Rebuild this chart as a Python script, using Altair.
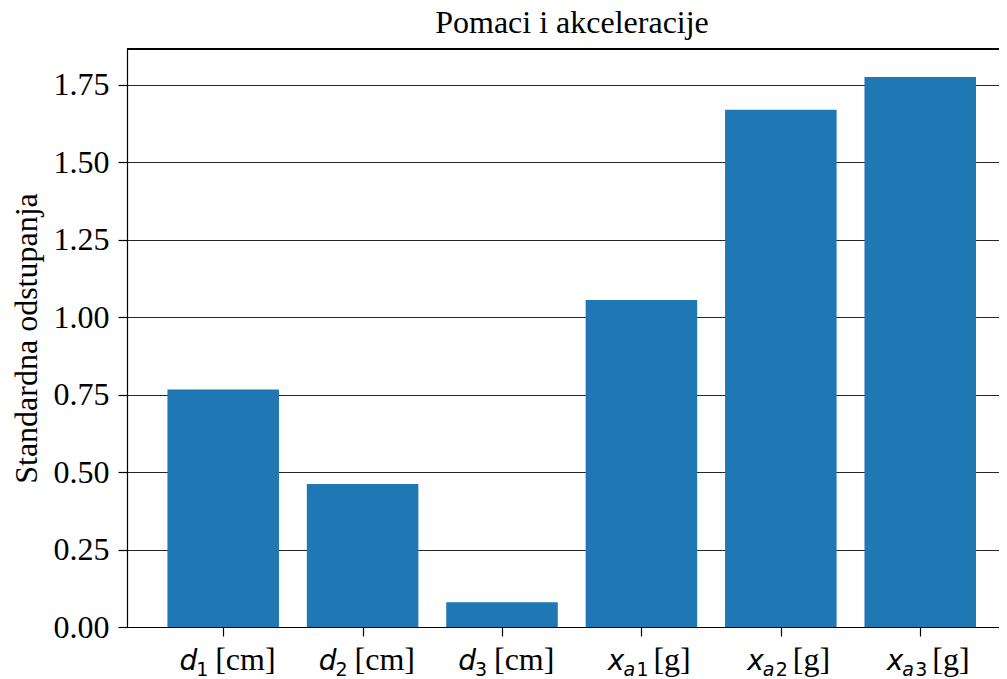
import altair as alt
import pandas as pd

symbols = ["d", "d", "d", "x", "x", "x"]
sub_letters = ["", "", "", "a", "a", "a"]
sub_digits = ["1", "2", "3", "1", "2", "3"]
unit_labels = ["[cm]", "[cm]", "[cm]", "[g]", "[g]", "[g]"]
values = [0.767, 0.462, 0.080, 1.056, 1.670, 1.776]
y_ticks = [0.0, 0.25, 0.5, 0.75, 1.0, 1.25, 1.5, 1.75]

df = pd.DataFrame({
    "idx": list(range(len(values))),
    "sym": symbols,
    "subl": sub_letters,
    "subd": sub_digits,
    "unit": unit_labels,
    "value": values,
})

W, H = 872, 578
SERIF = "Liberation Serif"
SANS = "DejaVu Sans"
FS = 32

xscale = alt.Scale(domain=[-0.69, 5.565], nice=False, zero=False)
yscale = alt.Scale(domain=[0, 1.866], nice=False, zero=True)

base = alt.Chart(df)

bars = base.mark_bar(color="#1f77b4").transform_calculate(
    x0="datum.idx - 0.4", x1="datum.idx + 0.4"
).encode(
    x=alt.X("x0:Q", scale=xscale,
            axis=alt.Axis(values=list(range(len(values))), labels=False, title=None,
                          grid=False, tickSize=9, tickColor="black", tickWidth=1.2,
                          domainColor="black", domainWidth=1.2, zindex=1)),
    x2="x1:Q",
    y=alt.Y("value:Q", scale=yscale,
            axis=alt.Axis(values=y_ticks, format=".2f", title="Standardna odstupanja",
                          labelFont=SERIF, labelFontSize=FS, labelColor="black",
                          labelPadding=9, tickSize=9, tickColor="black", tickWidth=1.2,
                          domainColor="black", domainWidth=1.2,
                          grid=True, gridColor="black", gridWidth=1.1, gridOpacity=0.85,
                          titleFont=SERIF, titleFontSize=FS, titleFontWeight="normal",
                          titleColor="black", titlePadding=10)),
    y2=alt.datum(0),
)

top_spine = base.mark_rule(color="black", strokeWidth=1.2).encode(
    x=alt.value(0), x2=alt.value(W), y=alt.value(0)
)

MAIN_Y = H + 43
SUB_Y = H + 49


def txt(sub, field, font, size, align, dx, y, italic=False):
    kw = dict(font=font, fontSize=size, align=align, baseline="alphabetic", dx=dx, color="black")
    if italic:
        kw["fontStyle"] = "italic"
    return sub.mark_text(**kw).encode(
        x=alt.X("idx:Q", scale=xscale), y=alt.value(y), text=f"{field}:N")


d_rows = base.transform_filter(alt.datum.unit == "[cm]")
x_rows = base.transform_filter(alt.datum.unit == "[g]")

labels = alt.layer(
    txt(d_rows, "sym", SANS, 28, "right", -26, MAIN_Y, italic=True),
    txt(d_rows, "subd", SANS, 19, "left", -27, SUB_Y),
    txt(d_rows, "unit", SERIF, FS, "left", -8, MAIN_Y),
    txt(x_rows, "sym", SANS, 28, "right", -17, MAIN_Y, italic=True),
    txt(x_rows, "subl", SANS, 19, "left", -18, SUB_Y, italic=True),
    txt(x_rows, "subd", SANS, 19, "left", -5, SUB_Y),
    txt(x_rows, "unit", SERIF, FS, "left", 12, MAIN_Y),
)

chart = alt.layer(bars, top_spine, labels).properties(
    width=W, height=H,
    title=alt.TitleParams("Pomaci i akceleracije", font=SERIF, fontSize=FS,
                          fontWeight="normal", color="black", dx=9, offset=8),
    autosize=alt.AutoSizeParams(type="none"),
    padding={"left": 119, "top": 41, "right": 0, "bottom": 52},
).configure_view(stroke=None).configure(background="white")

chart.save("out.html", embed_options={"renderer": "svg", "actions": False})
